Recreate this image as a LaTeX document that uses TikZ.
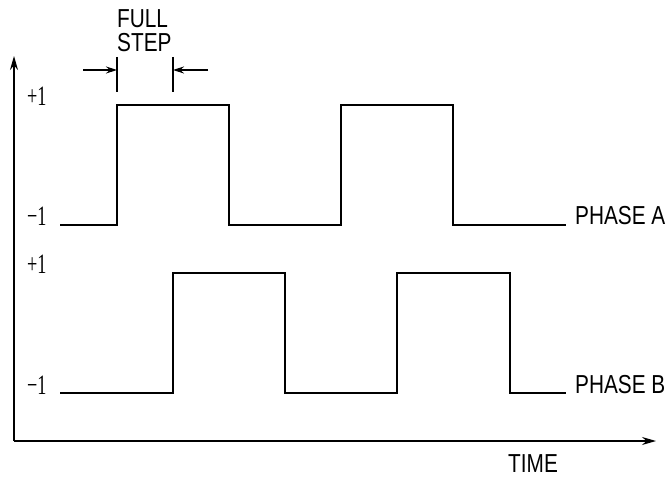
\documentclass[tikz,border=0pt]{standalone}
\usepackage{fontspec}
\usetikzlibrary{arrows.meta}
\newfontfamily\plotfont[FakeStretch=0.8]{Liberation Sans}
\newfontfamily\numfont[FakeStretch=0.65]{Liberation Serif}
\begin{document}
\begin{tikzpicture}[x=1pt,y=-1pt,
  wave/.style={line width=1.3pt},
  axis/.style={line width=1.3pt,-{Stealth[length=14pt,width=8pt]}},
  dimarrow/.style={line width=1.1pt,-{Stealth[length=11pt,width=7pt]}},
  tick/.style={line width=1.1pt},
  lbl/.style={font=\plotfont\fontsize{26}{26}\selectfont,inner sep=0pt,anchor=base west},
  lvl/.style={font=\numfont\fontsize{28}{28}\selectfont,inner sep=0pt,anchor=base west}]
\useasboundingbox (0,0) rectangle (669,478);
% axes
\coordinate (o) at (14,441);
\coordinate (ytip) at (14,56);
\coordinate (xtip) at (656,441);
\draw[axis] (o) -- (ytip);
\draw[axis] (o) -- (xtip);
% phase A
\draw[wave] (60,225) -- (117,225) -- (117,105) -- (229,105) -- (229,225)
  -- (341,225) -- (341,105) -- (453,105) -- (453,225) -- (566,225);
% phase B
\draw[wave] (60,393) -- (173,393) -- (173,273) -- (285,273) -- (285,393)
  -- (397,393) -- (397,273) -- (510,273) -- (510,393) -- (566,393);
% level labels
\node[lvl] (pa) at (27,106) {+1};
\node[lvl] (ma) at (27,226) {−1};
\node[lvl] (pb) at (27,274) {+1};
\node[lvl] (mb) at (27,394) {−1};
% phase labels
\node[lbl] (phA) at (575,225) {PHASE A};
\node[lbl] (phB) at (575,393) {PHASE B};
\node[lbl] (time) at (508,472) {TIME};
% full step
\node[lbl] (full) at (117,28) {FULL};
\node[lbl] (step) at (117,52) {STEP};
\coordinate (t1a) at (117,57); \coordinate (t1b) at (117,92);
\coordinate (t2a) at (173,57); \coordinate (t2b) at (173,92);
\draw[tick] (t1a) -- (t1b);
\draw[tick] (t2a) -- (t2b);
\coordinate (l0) at (83,70); \coordinate (l1) at (117,70);
\coordinate (r0) at (208,70); \coordinate (r1) at (173,70);
\draw[dimarrow] (l0) -- (l1);
\draw[dimarrow] (r0) -- (r1);
\end{tikzpicture}
\end{document}
